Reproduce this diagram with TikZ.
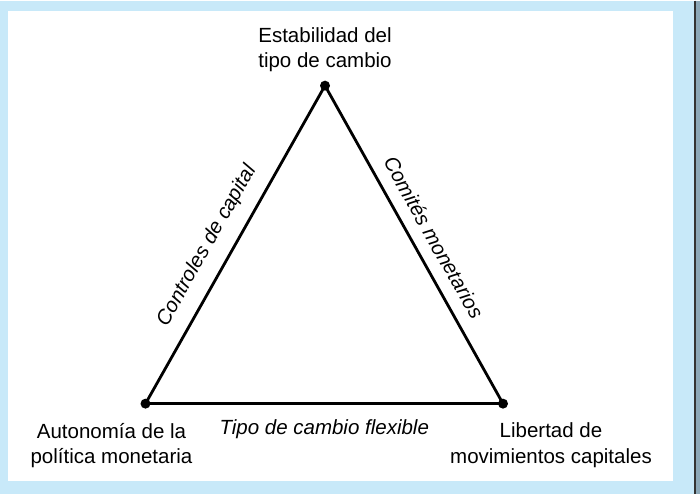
\documentclass[tikz,border=0pt]{standalone}
\usepackage{fontspec}
\setmainfont{Liberation Sans}
\usetikzlibrary{positioning, calc}
\definecolor{framebg}{RGB}{200, 233, 249}
\definecolor{frameedge}{RGB}{140, 168, 184}

\begin{document}
\begin{tikzpicture}[
    x=1pt, y=-1pt,
    vertex/.style={circle, fill=black, inner sep=0pt, minimum size=10pt},
    vlabel/.style={align=center, inner sep=0pt, font=\fontsize{20.5}{25.5}\selectfont},
    side/.style={sloped, inner sep=0pt, font=\fontsize{20.5}{25}\selectfont\itshape},
    edge/.style={line width=2.8pt, line join=round}
  ]
    % frame
    \fill[framebg] (0,0) rectangle (695,493);
    \fill[frameedge] (695,0) rectangle (700,493);
    \draw[black!80, line width=1.3pt] (695,0) -- (695,493);
    \fill[white] (8,10) rectangle (673,480);
    
    \node[vertex] (top) at (325,85) {};
    \node[vertex] (left) at (145.5,403) {};
    \node[vertex] (right) at (503,403) {};
    
    \draw[edge] (left.center) -- node[side, pos=0.46, above=13pt] {Controles de capital} (top.center);
    \draw[edge] (top.center) -- node[side, pos=0.51, above=12pt] {Comités monetarios} (right.center);
    \draw[edge] (left.center) -- node[side, below=15pt] {Tipo de cambio flexible} (right.center);
    
    \node[vlabel, above=8pt of top] (toplabel) {Estabilidad del\\tipo de cambio};
    \node[vlabel, below=14pt of left, xshift=-34pt] (leftlabel) {Autonomía de la\\política monetaria};
    \node[vlabel, below=14pt of right, xshift=48pt] (rightlabel) {Libertad de\\movimientos capitales};
  \end{tikzpicture}
\end{document}
